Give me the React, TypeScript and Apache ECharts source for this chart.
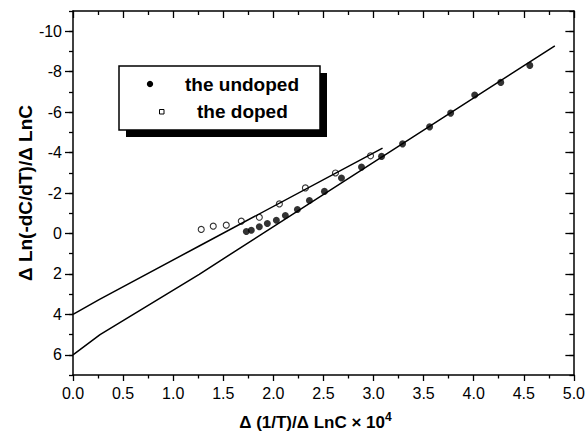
import React, { useEffect, useRef } from "react";
import * as echarts from "echarts";

// Undoped (filled) points
const undopedX = [1.73, 1.78, 1.86, 1.94, 2.03, 2.12, 2.24, 2.36, 2.51, 2.68, 2.88, 3.08, 3.29, 3.56, 3.77, 4.01, 4.27, 4.56];
const undopedY = [-0.1, -0.16, -0.33, -0.49, -0.65, -0.89, -1.18, -1.63, -2.08, -2.74, -3.28, -3.81, -4.43, -5.27, -5.95, -6.85, -7.47, -8.31];
// Doped (open) points
const dopedX = [1.28, 1.4, 1.53, 1.68, 1.86, 2.06, 2.32, 2.62, 2.97];
const dopedY = [-0.2, -0.36, -0.41, -0.61, -0.8, -1.46, -2.25, -2.99, -3.84];
// Fit lines
const undopedFitX = [0, 0.27, 1.26, 4.81];
const undopedFitY = [6.0, 5.0, 2.02, -9.28];
const dopedFitX = [0, 0.265, 1.26, 3.09];
const dopedFitY = [4.0, 3.26, 0.62, -4.22];
// Axis ticks
const yMajorTicks = [-10, -8, -6, -4, -2, 0, 2, 4, 6];
const legendNames = ["the undoped", "the doped"];

const FONT = "Liberation Sans, Arial, Helvetica, sans-serif";

const zip = (xs: number[], ys: number[]) => xs.map((x, i) => [x, ys[i]]);

export default function App() {
  const ref = useRef<HTMLDivElement>(null);
  useEffect(() => {
    if (!ref.current) return;
    const chart = echarts.init(ref.current, undefined, { renderer: "svg" });
    const axisLine = { show: true, onZero: false, lineStyle: { color: "#000", width: 1.5 } };
    const noLine = { show: false, onZero: false };
    const yCommon = { type: "value", inverse: true, min: -11, max: 7, splitLine: { show: false } };
    const xCommon = { type: "value", min: 0, max: 5, interval: 0.5, splitLine: { show: false } };
    chart.setOption({
      animation: false,
      backgroundColor: "#fff",
      textStyle: { fontFamily: FONT },
      grid: { left: 73, right: 12, top: 11, bottom: 63, containLabel: false },
      xAxis: [
        {
          ...xCommon,
          position: "bottom",
          axisLine,
          axisTick: { show: true, inside: false, length: 6, lineStyle: { color: "#000", width: 1.3 } },
          minorTick: { show: true, splitNumber: 2, length: 3.5, lineStyle: { color: "#000", width: 1.3 } },
          axisLabel: {
            color: "#000",
            fontSize: 16,
            fontFamily: FONT,
            margin: 10,
            formatter: (v: number) => v.toFixed(1),
          },
          name: "{a|Δ (1/T)/Δ LnC × 10}{s|4}",
          nameLocation: "middle",
          nameGap: 36,
          nameTextStyle: {
            padding: [0, 16, 0, 0],
            rich: {
              a: { fontSize: 17, fontWeight: "bold", fontFamily: FONT, color: "#000", lineHeight: 22 },
              s: { fontSize: 12, fontWeight: "bold", fontFamily: FONT, color: "#000", verticalAlign: "top", lineHeight: 12 },
            },
          },
        },
        {
          ...xCommon,
          position: "top",
          axisLine,
          axisTick: { show: true, inside: true, length: 7, lineStyle: { color: "#000", width: 1.3 } },
          minorTick: { show: true, splitNumber: 2, length: 4, lineStyle: { color: "#000", width: 1.3 } },
          axisLabel: { show: false },
        },
      ],
      yAxis: [
        {
          ...yCommon,
          position: "left",
          interval: 1,
          axisLine,
          axisTick: { show: true, inside: false, length: 4, lineStyle: { color: "#000", width: 1.3 } },
          axisLabel: { show: false },
          name: "Δ Ln(-dC/dT)/Δ LnC",
          nameLocation: "middle",
          nameGap: 38,
          nameTextStyle: { fontSize: 19, fontWeight: "bold", fontFamily: FONT, color: "#000" },
        },
        {
          ...yCommon,
          position: "left",
          axisLine: noLine,
          axisTick: { show: true, inside: false, length: 8, customValues: yMajorTicks, lineStyle: { color: "#000", width: 1.3 } },
          axisLabel: { show: true, customValues: yMajorTicks, color: "#000", fontSize: 16, fontFamily: FONT, margin: 11 },
        },
        {
          ...yCommon,
          position: "right",
          interval: 1,
          axisLine,
          axisTick: { show: true, inside: true, length: 4.5, lineStyle: { color: "#000", width: 1.3 } },
          axisLabel: { show: false },
        },
        {
          ...yCommon,
          position: "right",
          axisLine: noLine,
          axisTick: { show: true, inside: true, length: 8.5, customValues: yMajorTicks, lineStyle: { color: "#000", width: 1.3 } },
          axisLabel: { show: false },
        },
      ],
      series: [
        {
          name: legendNames[0] + " fit",
          type: "line",
          data: zip(undopedFitX, undopedFitY),
          symbol: "none",
          lineStyle: { color: "#000", width: 1.5 },
          xAxisIndex: 0,
          yAxisIndex: 0,
        },
        {
          name: legendNames[1] + " fit",
          type: "line",
          data: zip(dopedFitX, dopedFitY),
          symbol: "none",
          lineStyle: { color: "#000", width: 1.5 },
          xAxisIndex: 0,
          yAxisIndex: 0,
        },
        {
          name: legendNames[0],
          type: "scatter",
          data: zip(undopedX, undopedY),
          symbol: "circle",
          symbolSize: 7,
          itemStyle: { color: "#000" },
          xAxisIndex: 0,
          yAxisIndex: 0,
        },
        {
          name: legendNames[1],
          type: "scatter",
          data: zip(dopedX, dopedY),
          symbol: "circle",
          symbolSize: 6,
          itemStyle: { color: "#fff", borderColor: "#000", borderWidth: 1.1 },
          xAxisIndex: 0,
          yAxisIndex: 0,
        },
      ],
      graphic: [
        { type: "rect", shape: { x: 126, y: 73, width: 201, height: 64 }, style: { fill: "#000" }, z: 100 },
        { type: "rect", shape: { x: 119, y: 66, width: 201, height: 64 }, style: { fill: "#fff", stroke: "#000", lineWidth: 1.5 }, z: 101 },
        { type: "circle", shape: { cx: 150, cy: 84, r: 3.2 }, style: { fill: "#000" }, z: 102 },
        { type: "rect", shape: { x: 159.5, y: 109.5, width: 4.5, height: 4.5 }, style: { fill: "#fff", stroke: "#000", lineWidth: 1 }, z: 102 },
        {
          type: "text",
          x: 185,
          y: 84,
          z: 102,
          style: { text: legendNames[0], fontSize: 19, fontWeight: "bold", fontFamily: FONT, fill: "#000", verticalAlign: "middle", align: "left" },
        },
        {
          type: "text",
          x: 197,
          y: 111,
          z: 102,
          style: { text: legendNames[1], fontSize: 19, fontWeight: "bold", fontFamily: FONT, fill: "#000", verticalAlign: "middle", align: "left" },
        },
      ],
    } as any);
    return () => chart.dispose();
  }, []);
  return (
    <div
      ref={ref}
      style={{ position: "fixed", left: 0, top: 0, width: 588, height: 438, background: "#fff" }}
    />
  );
}
